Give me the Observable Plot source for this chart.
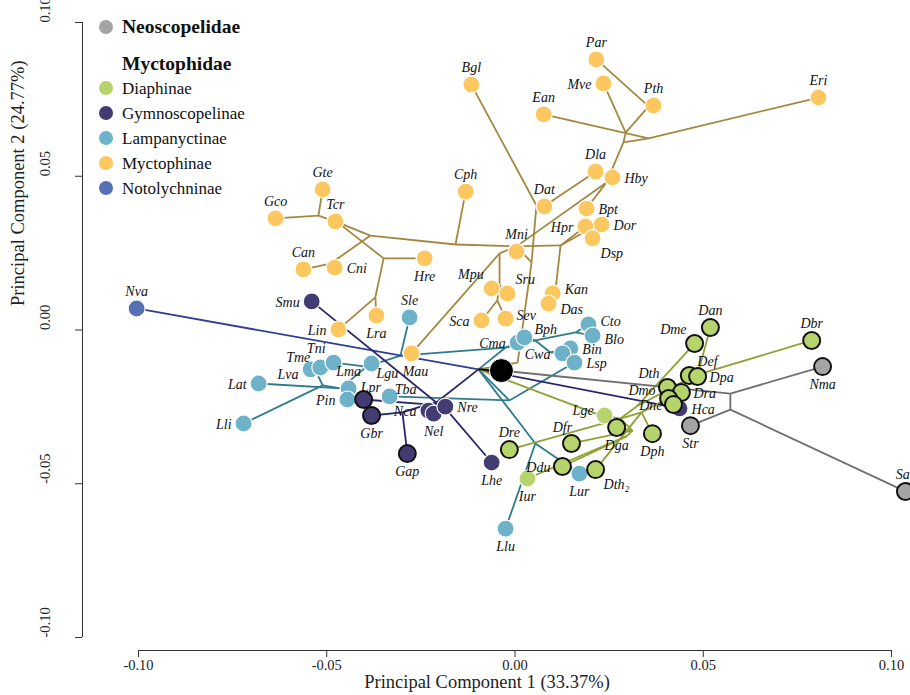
<!DOCTYPE html>
<html>
<head>
<meta charset="utf-8">
<script src="https://cdn.jsdelivr.net/npm/d3@7"></script>
<script src="https://cdn.jsdelivr.net/npm/@observablehq/plot@0.6"></script>
<style>
  body { margin: 0; background: #fff; }
  #wrap { position: relative; width: 910px; height: 695px; overflow: hidden; }
  #legend { position: absolute; left: 0; top: 0; font-family: "Liberation Serif", "DejaVu Serif", serif; color: #111; }
  .lg-dot { position: absolute; width: 14px; height: 14px; border-radius: 50%; }
  .lg-txt { position: absolute; white-space: nowrap; line-height: 1; transform: translateY(-50%); }
</style>
</head>
<body>
<div id="wrap"><div id="chart"></div><div id="legend"></div></div>
<script>
// ---- Tip values (PC1, PC2) ----
const neoscopelidae = [["Nma",0.0817,-0.0119],["Str",0.0466,-0.0311],["Sar",0.1037,-0.0525]];
const diaphinae = [["Dbr",0.0788,-0.0034],["Dan",0.0519,0.0008],["Dme",0.0477,-0.0044],["Def",0.0463,-0.0148],["Dpa",0.0485,-0.0151],["Dth",0.0405,-0.0187],["Dra",0.0442,-0.0203],["Dmo",0.0408,-0.0223],["Dne",0.0421,-0.0242],["Lge",0.0238,-0.0278],["Dga",0.0270,-0.0317],["Dph",0.0365,-0.0337],["Dfr",0.0150,-0.0369],["Dre",-0.0015,-0.0389],["Ddu",0.0126,-0.0444],["Dth₂",0.0214,-0.0454],["Iur",0.0033,-0.0483]];
const gymnoscopelinae = [["Smu",-0.0540,0.0093],["Lpr",-0.0402,-0.0226],["Gbr",-0.0381,-0.0278],["Gap",-0.0286,-0.0402],["Nca",-0.0230,-0.0262],["Nel",-0.0216,-0.0272],["Nre",-0.0185,-0.0249],["Lhe",-0.0062,-0.0431],["Hca",0.0437,-0.0255]];
const lampanyctinae = [["Lat",-0.0681,-0.0174],["Lli",-0.0721,-0.0304],["Lva",-0.0543,-0.0128],["Tme",-0.0517,-0.0122],["Tni",-0.0482,-0.0106],["Lgu",-0.0381,-0.0109],["Lma",-0.0442,-0.0190],["Pin",-0.0445,-0.0226],["Tba",-0.0333,-0.0216],["Sle",-0.0280,0.0041],["Cma",0.0007,-0.0041],["Bph",0.0025,-0.0024],["Cto",0.0195,0.0018],["Blo",0.0206,-0.0018],["Bin",0.0147,-0.0060],["Cwa",0.0126,-0.0076],["Lsp",0.0158,-0.0106],["Lur",0.0171,-0.0467],["Llu",-0.0025,-0.0646]];
const myctophinae = [["Par",0.0216,0.0880],["Mve",0.0235,0.0802],["Pth",0.0368,0.0730],["Eri",0.0806,0.0756],["Ean",0.0076,0.0701],["Bgl",-0.0116,0.0798],["Dla",0.0214,0.0515],["Hby",0.0259,0.0496],["Cph",-0.0131,0.0450],["Dat",0.0078,0.0402],["Bpt",0.0190,0.0395],["Dor",0.0230,0.0343],["Hpr",0.0187,0.0337],["Dsp",0.0206,0.0298],["Mni",0.0004,0.0255],["Hre",-0.0240,0.0233],["Gte",-0.0511,0.0457],["Gco",-0.0636,0.0363],["Tcr",-0.0477,0.0353],["Can",-0.0562,0.0197],["Cni",-0.0479,0.0203],["Lin",-0.0469,0.0002],["Lra",-0.0368,0.0047],["Mpu",-0.0062,0.0135],["Sru",-0.0020,0.0119],["Sca",-0.0089,0.0031],["Sev",-0.0025,0.0037],["Kan",0.0100,0.0119],["Das",0.0089,0.0086],["Mau",-0.0275,-0.0076]];
const notolychninae = [["Nva",-0.1005,0.0070]];
const rootNode = [["root",-0.0036,-0.0132]];

// tips drawn with a dark ring
const ringed = ["Nma","Str","Sar","Dbr","Dan","Dme","Def","Dpa","Dth","Dra","Dmo","Dne","Dga","Dph","Dfr","Dre","Ddu","Dth₂","Lpr","Gbr","Gap"];

// ---- Estimated ancestral (internal) nodes ----
const nodes = [
  ["M0",-0.0097,-0.0128],
  ["G1",0.0572,-0.0207],["G2",0.0572,-0.0259],
  ["GY1",-0.0209,-0.0236],["GY5",-0.0182,-0.0259],["GY8",-0.0232,-0.0242],["GY7",-0.0299,-0.0268],
  ["T1",-0.0025,-0.0057],["T2",0.0054,-0.0034],["T3",0.0161,-0.0008],["T4",0.0094,-0.0073],["T5",-0.0304,-0.0083],["T6",-0.0394,-0.0119],["T7",-0.0463,-0.0190],["T8",-0.0511,-0.0180],["T9",-0.0527,-0.0138],["T10",-0.0432,-0.0210],["T11",-0.0015,-0.0229],["T12",0.0054,-0.0369],
  ["YS",0.0007,-0.0106],["YM",0.0044,0.0220],["YB",0.0057,0.0405],["YD",0.0100,0.0421],["YU",0.0004,0.0272],["YH",0.0243,0.0480],["E2",0.0288,0.0610],["E1",0.0355,0.0623],["E3",0.0294,0.0642],["E4",0.0355,0.0727],["YR",0.0121,0.0275],["YK",0.0108,0.0135],["YO",0.0201,0.0330],["YP",-0.0158,0.0278],["YA",-0.0384,0.0307],["YT",-0.0471,0.0350],["YG",-0.0522,0.0372],["YC",-0.0490,0.0216],["YL",-0.0349,0.0233],["YN",-0.0371,0.0106],["YX",-0.0041,0.0249],["YQ",-0.0041,0.0145],["YZ",-0.0047,0.0096],
  ["D0",0.0222,-0.0275],["D1",0.0280,-0.0288],["D2",0.0312,-0.0327],["D7",0.0296,-0.0346],["D3",0.0336,-0.0268],["D4",0.0386,-0.0236],["D5",0.0323,-0.0249],["D6",0.0461,-0.0158],["D9",0.0485,-0.0145]
];

// ---- Tree edges (parent, child) by clade ----
const edgesMyct = [["M0","YS"],["YS","YM"],["YM","YB"],["YB","Bgl"],["YB","YD"],["YD","Dat"],["YD","Dla"],["YM","YU"],["YU","Mni"],["YU","YH"],["YH","Hby"],["YH","Bpt"],["YH","E2"],["E2","E1"],["E1","Eri"],["E1","Ean"],["E2","E3"],["E3","Mve"],["E3","E4"],["E4","Pth"],["E4","Par"],["YU","YR"],["YR","Hpr"],["YR","YK"],["YK","Kan"],["YK","Das"],["YR","YO"],["YO","Dor"],["YO","Dsp"],["YU","YP"],["YP","Cph"],["YP","YA"],["YA","YC"],["YC","Can"],["YC","Cni"],["YA","YT"],["YT","Tcr"],["YT","YG"],["YG","Gco"],["YG","Gte"],["YT","YL"],["YL","Hre"],["YL","YN"],["YN","Lin"],["YN","Lra"],["YU","YX"],["YX","Mau"],["YX","YQ"],["YQ","Mpu"],["YQ","Sru"],["YQ","YZ"],["YZ","Sca"],["YZ","Sev"]];
const edgesLamp = [["M0","T1"],["T1","Cma"],["T1","T2"],["T2","Bph"],["T2","T3"],["T3","Cto"],["T3","Blo"],["T2","T4"],["T4","Bin"],["T4","Cwa"],["T1","T5"],["T5","Sle"],["T5","T6"],["T6","Lgu"],["T6","Tni"],["T6","T7"],["T7","Lat"],["T7","T8"],["T8","Lli"],["T8","T9"],["T9","Lva"],["T9","Tme"],["T7","T10"],["T10","Lma"],["T10","Pin"],["M0","T11"],["T11","Lsp"],["T11","Tba"],["M0","T12"],["T12","Lur"],["T12","Llu"]];
const edgesGymno = [["M0","GY1"],["M0","Hca"],["GY1","GY5"],["GY5","Lhe"],["GY5","Nre"],["GY1","Nca"],["GY1","Nel"],["GY1","Smu"],["GY1","GY8"],["GY8","Lpr"],["GY8","GY7"],["GY7","Gbr"],["GY7","Gap"]];
const edgesNoto = [["M0","Nva"]];
const edgesDia = [["M0","D0"],["D0","Lge"],["D0","D1"],["D1","Dre"],["D1","D2"],["D2","Dfr"],["D2","D7"],["D7","Ddu"],["D7","Iur"],["D2","Dga"],["D1","D3"],["D3","Dth₂"],["D3","Dph"],["D3","D4"],["D4","Dmo"],["D4","Dne"],["D4","Dra"],["D4","Dth"],["D1","D5"],["D5","Dme"],["D5","D6"],["D6","Def"],["D6","D9"],["D9","Dpa"],["D9","Dan"],["D9","Dbr"]];
const edgesNeo = [["root","G1"],["G1","Nma"],["G1","G2"],["G2","Str"],["G2","Sar"]];
const edgesRoot = [["root","M0"]];

// ---- Tick values and texts ----
const xTicks = [-0.10,-0.05,0.00,0.05,0.10];
const yTicks = [-0.10,-0.05,0.00,0.05,0.10];
const xLabel = "Principal Component 1 (33.37%)";
const yLabel = "Principal Component 2 (24.77%)";

// label placement around each tip
const labelSide = {
  N: ["Sar","Dbr","Dan","Nva","Sle","Lma","Par","Pth","Eri","Ean","Bgl","Dla","Cph","Dat","Mni","Gte","Gco","Tcr","Can","Dre"],
  S: ["Nma","Str","Dga","Dph","Iur","Lur","Llu","Lhe","Lra","Gbr","Nel","Gap","Hre"],
  E: ["Dpa","Dra","Hca","Bin","Lsp","Hby","Dor","Cni","Nre","Bpt"],
  W: ["Cma","Smu","Lin","Lat","Lli","Nca","Mve","Hpr","Sca","Ddu","Pin","Cwa"],
  NE: ["Def","Sru"],
  NW: ["Dme","Dth","Tni","Mpu"],
  SE: ["Dth₂","Dsp"],
  // individually nudged labels
  Kan: ["Kan"], Das: ["Das"], Dmo: ["Dmo"], Dne: ["Dne"], Lgu: ["Lgu"], Lpr: ["Lpr"], Tba: ["Tba"],
  Cto: ["Cto"], Blo: ["Blo"], Tme: ["Tme"], Sev: ["Sev"], Bph: ["Bph"], Lge: ["Lge"], Dfr: ["Dfr"],
  Lva: ["Lva"], Mau: ["Mau"]
};

// ---- Styles ----
const fills = {Neoscopelidae:"#a4a4a4", Diaphinae:"#b7d46c", Gymnoscopelinae:"#433c72", Lampanyctinae:"#6db2c9", Myctophinae:"#fdc760", Notolychninae:"#5670b4"};
const edgeColors = {root:"#000000", Neoscopelidae:"#6f6f6f", Diaphinae:"#8fa232", Gymnoscopelinae:"#29276b", Lampanyctinae:"#2f7b8d", Myctophinae:"#a5883f", Notolychninae:"#2e3e91"};
const sideStyle = {
  N:{dx:0,dy:-17,textAnchor:"middle"}, S:{dx:0,dy:18,textAnchor:"middle"},
  E:{dx:12,dy:1,textAnchor:"start"}, W:{dx:-12,dy:1,textAnchor:"end"},
  NE:{dx:8,dy:-14,textAnchor:"start"}, NW:{dx:-8,dy:-14,textAnchor:"end"},
  SE:{dx:8,dy:15,textAnchor:"start"}, SW:{dx:-8,dy:15,textAnchor:"end"},
  Kan:{dx:12,dy:-4,textAnchor:"start"}, Das:{dx:12,dy:6,textAnchor:"start"},
  Dmo:{dx:-13,dy:-8,textAnchor:"end"}, Dne:{dx:-11,dy:1,textAnchor:"end"},
  Lgu:{dx:5,dy:10,textAnchor:"start"}, Lpr:{dx:-3,dy:-12,textAnchor:"start"},
  Tba:{dx:5,dy:-7,textAnchor:"start"},
  Cto:{dx:12,dy:-3,textAnchor:"start"}, Blo:{dx:12,dy:4,textAnchor:"start"},
  Tme:{dx:-10,dy:-10,textAnchor:"end"}, Lva:{dx:-12,dy:5,textAnchor:"end"},
  Sev:{dx:11,dy:-3,textAnchor:"start"}, Bph:{dx:10,dy:-8,textAnchor:"start"},
  Lge:{dx:-11,dy:-5,textAnchor:"end"}, Dfr:{dx:-9,dy:-16,textAnchor:"middle"},
  Mau:{dx:4,dy:18,textAnchor:"middle"}
};

// ---- Build tables ----
const tipGroups = [["Myctophinae",myctophinae],["Lampanyctinae",lampanyctinae],["Gymnoscopelinae",gymnoscopelinae],["Notolychninae",notolychninae],["Diaphinae",diaphinae],["Neoscopelidae",neoscopelidae]];
const tips = tipGroups.flatMap(([g, arr]) => arr.map(([name, x, y]) => ({name, x, y, group: g, ring: ringed.includes(name)})));
const pos = new Map();
for (const t of tips) pos.set(t.name, [t.x, t.y]);
for (const [n, x, y] of nodes) pos.set(n, [x, y]);
for (const [n, x, y] of rootNode) pos.set(n, [x, y]);
const edgeGroups = [["Myctophinae",edgesMyct],["Lampanyctinae",edgesLamp],["Notolychninae",edgesNoto],["Gymnoscopelinae",edgesGymno],["Diaphinae",edgesDia],["Neoscopelidae",edgesNeo],["root",edgesRoot]];
const links = edgeGroups.flatMap(([g, arr]) => arr.map(([a, b]) => ({
  x1: pos.get(a)[0], y1: pos.get(a)[1], x2: pos.get(b)[0], y2: pos.get(b)[1], color: edgeColors[g]
})));
const root = rootNode.map(([name, x, y]) => ({name, x, y}));

const serif = "Liberation Serif, DejaVu Serif, serif";
const labelMarks = Object.entries(labelSide).map(([side, names]) =>
  Plot.text(tips.filter(t => names.includes(t.name)), {
    x: "x", y: "y", text: "name", ...sideStyle[side],
    fontStyle: "italic", fontSize: 14, fill: "#111", fontFamily: serif
  })
);

const chart = Plot.plot({
  width: 910, height: 695,
  marginLeft: 82, marginRight: 19, marginTop: 22, marginBottom: 45,
  x: {domain: [-0.1, 0.1], range: [138, 891]},
  y: {domain: [-0.1, 0.1], range: [637, 22]},
  style: {fontFamily: serif, background: "white", color: "#222"},
  marks: [
    Plot.ruleY([-0.1], {x1: -0.1, x2: 0.1, dy: 13, stroke: "#333", strokeWidth: 1}),
    Plot.ruleX([-0.1], {y1: -0.1, y2: 0.1, dx: -56, stroke: "#333", strokeWidth: 1}),
    Plot.axisX(xTicks, {anchor: "bottom", tickSize: 7, tickPadding: 2, fontSize: 14.5, tickFormat: d => d.toFixed(2), label: null, stroke: "#333", fill: "#222"}),
    Plot.axisY(yTicks, {anchor: "left", tickSize: 7, tickFormat: () => "", label: null, stroke: "#333"}),
    Plot.text(yTicks, {y: d => d, frameAnchor: "left", dx: -37, rotate: -90, text: d => d.toFixed(2), fontSize: 14.5, fill: "#222"}),
    Plot.text([xLabel], {frameAnchor: "bottom", dy: 37, text: d => d, fontSize: 18.5, fill: "#222"}),
    Plot.text([yLabel], {y: () => 0, frameAnchor: "left", dx: -64, dy: -24, rotate: -90, text: d => d, fontSize: 18.5, fill: "#222"}),
    Plot.link(links, {x1: "x1", y1: "y1", x2: "x2", y2: "y2", stroke: "color", strokeWidth: 1.8}),
    Plot.dot(root, {x: "x", y: "y", r: 12, fill: "#000", stroke: "white", strokeWidth: 1}),
    Plot.dot(tips.filter(t => !t.ring), {x: "x", y: "y", r: 8.5, fill: d => fills[d.group], stroke: "white", strokeWidth: 1.2}),
    Plot.dot(tips.filter(t => t.ring), {x: "x", y: "y", r: 8.5, fill: d => fills[d.group], stroke: "#111", strokeWidth: 2}),
    ...labelMarks
  ]
});
document.getElementById("chart").append(chart);

// ---- Legend (overlay, top-left inside plot) ----
const legendFamilies = [["Neoscopelidae", ["Neoscopelidae"]], ["Myctophidae", ["Diaphinae","Gymnoscopelinae","Lampanyctinae","Myctophinae","Notolychninae"]]];
const legend = document.getElementById("legend");
function addDot(cx, cy, color) {
  const d = document.createElement("div");
  d.className = "lg-dot";
  d.style.left = (cx - 7) + "px"; d.style.top = (cy - 7) + "px"; d.style.background = color;
  legend.append(d);
}
function addText(x, cy, txt, size, bold) {
  const s = document.createElement("div");
  s.className = "lg-txt";
  s.textContent = txt;
  s.style.left = x + "px"; s.style.top = cy + "px"; s.style.fontSize = size + "px";
  if (bold) s.style.fontWeight = "bold";
  legend.append(s);
}
addDot(106, 27, fills.Neoscopelidae);
addText(122, 27, legendFamilies[0][0], 19.5, true);
addText(122, 64, legendFamilies[1][0], 19.5, true);
legendFamilies[1][1].forEach((g, i) => {
  const cy = 88 + i * 25;
  addDot(106, cy, fills[g]);
  addText(122, cy, g, 17, false);
});
</script>
</body>
</html>
